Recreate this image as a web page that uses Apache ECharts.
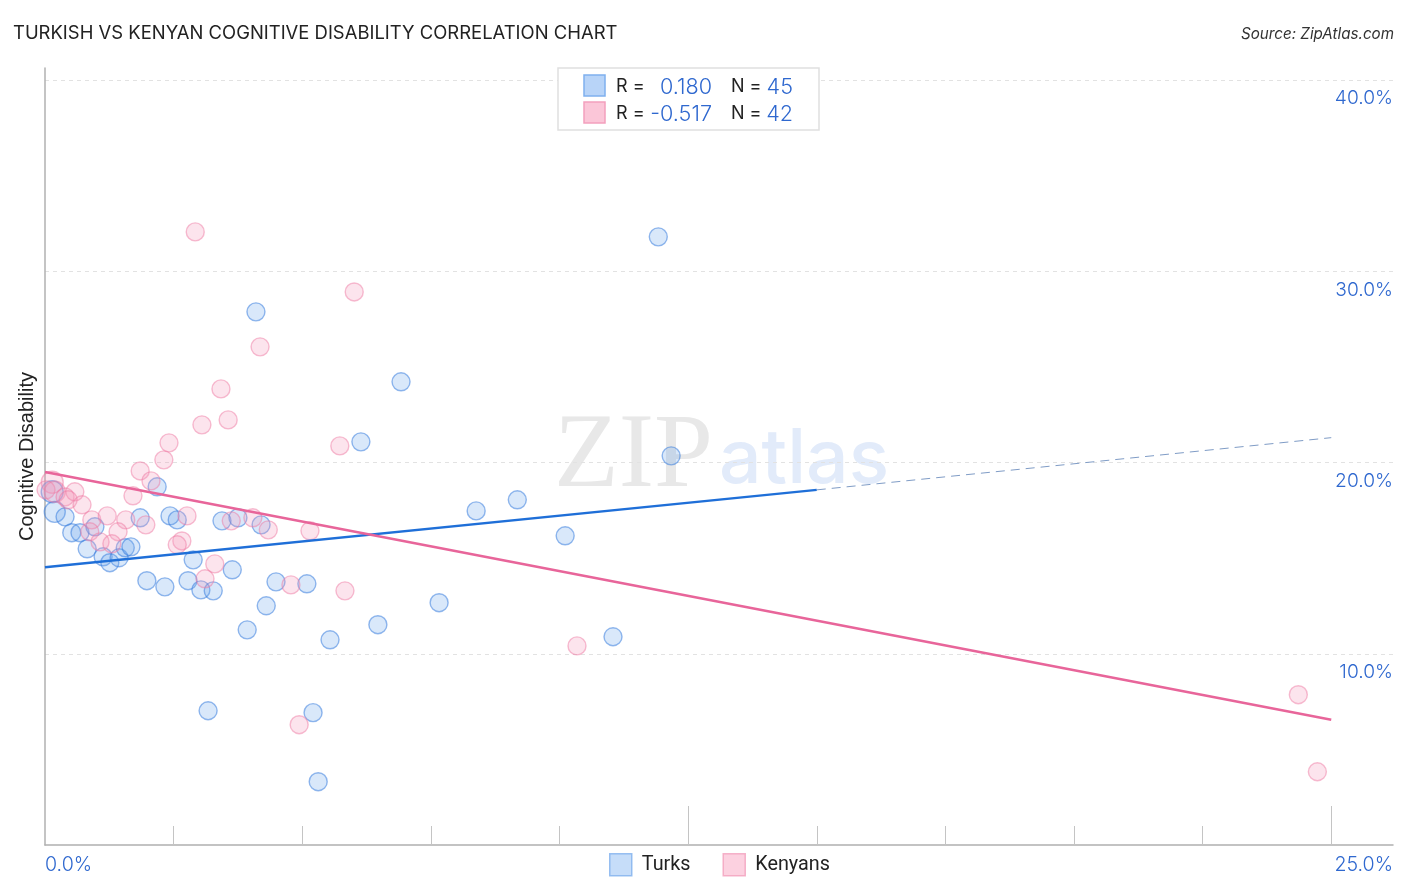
<!DOCTYPE html>
<html lang="en">
<head>
<meta charset="utf-8">
<title>Turkish vs Kenyan Cognitive Disability</title>
<script src="https://cdn.jsdelivr.net/npm/echarts@6/dist/echarts.min.js"></script>
<style>
  html, body { margin: 0; padding: 0; background: #fff; }
  #main { width: 1406px; height: 892px; }
</style>
</head>
<body>
<div id="main"></div>
<script>
// values, x and y both in percent
var turks = [
  [0.14,18.47],[0.19,17.42],[0.39,17.16],[0.52,16.33],[0.68,16.33],[0.97,16.64],[0.82,15.49],[1.13,15.07],[1.26,14.76],
  [1.44,15.02],[1.56,15.54],[1.67,15.59],[1.85,17.11],[2.18,18.73],[2.43,17.21],[2.57,17.0],[3.44,16.95],[3.75,17.11],
  [4.2,16.74],[2.88,14.91],[3.64,14.39],[1.98,13.82],[2.33,13.5],[2.78,13.82],[3.03,13.34],[3.27,13.29],[4.49,13.76],
  [5.09,13.66],[4.3,12.51],[3.93,11.25],[5.54,10.73],[3.17,7.02],[5.21,6.92],[5.31,3.31],[6.47,11.52],[7.66,12.67],
  [11.04,10.89],[10.11,16.17],[8.38,17.47],[9.18,18.05],[12.17,20.35],[6.14,21.08],[6.92,24.22],[4.1,27.88],[11.92,31.8]
];
var kenyans = [
  [0.14,18.97],[0.02,18.57],[0.19,18.47],[0.39,18.2],[0.58,18.47],[0.45,18.05],[0.72,17.79],[0.91,17.0],[1.21,17.21],
  [1.57,17.0],[0.87,16.38],[1.42,16.38],[1.96,16.74],[1.07,15.85],[1.3,15.75],[1.71,18.26],[1.85,19.56],[2.06,19.04],
  [2.31,20.14],[2.41,21.03],[2.76,17.21],[2.66,15.9],[2.57,15.7],[3.3,14.7],[3.11,13.92],[3.62,16.95],[4.04,17.11],
  [4.34,16.48],[5.15,16.43],[4.78,13.6],[5.83,13.29],[3.05,21.97],[3.56,22.23],[3.42,23.85],[4.18,26.05],[6.01,28.92],
  [2.92,32.06],[5.73,20.87],[4.94,6.29],[10.34,10.41],[24.36,7.86],[24.73,3.83]
];
// the points at the far left are drawn bigger in the source
var turksBig = [22,21];
var kenyansBig = [22,18,21];
var turksTrend = [[0,14.52],[15,18.57]];
var turksTrendExt = [[15,18.57],[25,21.3]];
var kenyansTrend = [[0,19.5],[25,6.55]];

var xTicks = [2.5,5,7.5,10,15,17.5,20,22.5];
var xLongTicks = [12.5,25];
var xMax = 26.2;
var yMax = 40.63;
var xLabelValues = [0,xMax];
var xLabelTexts = ['0.0%','25.0%'];
var yLabelValues = [10,20,30,40];
var statR = ['0.180','-0.517'];
var statN = ['45','42'];

var BLUE_TEXT = '#2f68cf';
var FONT = 'Inter';

function sizer(big) {
  return function (val, params) { return big[params.dataIndex] || 18; };
}

function statRow(i, top, fill, stroke) {
  var midY = top + 12;
  return [
    {type:'rect', shape:{x:584,y:top,width:21,height:21}, style:{fill:fill,stroke:stroke,lineWidth:1.5}, z:11},
    {type:'text', x:616, y:midY, style:{text:'R =',font:'400 18px '+FONT,fill:'#222',textVerticalAlign:'middle'}, z:11},
    {type:'text', x:712, y:midY, style:{text:statR[i],font:'300 21.6px '+FONT,fill:BLUE_TEXT,textAlign:'right',textVerticalAlign:'middle'}, z:11},
    {type:'text', x:731, y:midY, style:{text:'N =',font:'400 18px '+FONT,fill:'#222',textVerticalAlign:'middle'}, z:11},
    {type:'text', x:793, y:midY, style:{text:statN[i],font:'300 21.6px '+FONT,fill:BLUE_TEXT,textAlign:'right',textVerticalAlign:'middle'}, z:11}
  ];
}

var chart = echarts.init(document.getElementById('main'));
var option = {
  animation: false,
  backgroundColor: '#fff',
  title: [
    {text:'TURKISH VS KENYAN COGNITIVE DISABILITY CORRELATION CHART', left:13, top:24, padding:0,
     textStyle:{fontFamily:FONT,fontWeight:400,fontSize:18.45,color:'#222'}},
    {text:'Source: ZipAtlas.com', right:12, top:27, padding:0,
     textStyle:{fontFamily:FONT,fontStyle:'italic',fontWeight:400,fontSize:15.2,color:'#333'}}
  ],
  legend: {
    left: 609, top: 853, padding: 0, itemWidth: 22, itemHeight: 22, itemGap: 32,
    textStyle: {fontFamily:'Roboto',fontSize:19.8,color:'#222',padding:[0,0,0,5]},
    data: [
      {name:'Turks', icon:'rect', itemStyle:{color:'#b8d4f8',borderColor:'#7fb0ee',borderWidth:1.5}},
      {name:'Kenyans', icon:'rect', itemStyle:{color:'#fbc6d8',borderColor:'#f3a0bd',borderWidth:1.5}}
    ]
  },
  grid: {left:45, right:13, top:68, bottom:47},
  xAxis: [
    {type:'value', min:0, max:xMax, interval:2.5, splitLine:{show:false},
     axisLine:{onZero:false,lineStyle:{color:'#b0b0b0',width:1.5}},
     axisTick:{show:true,inside:true,length:19,customValues:xTicks,lineStyle:{color:'#c4c4c4',width:1}},
     axisLabel:{customValues:xLabelValues,alignMinLabel:'left',alignMaxLabel:'right',margin:10,
       fontFamily:FONT,fontWeight:300,fontSize:19.6,color:BLUE_TEXT,
       formatter:function(v){return xLabelTexts[xLabelValues.indexOf(v)];}}},
    {type:'value', min:0, max:xMax, interval:12.5, position:'bottom', splitLine:{show:false},
     axisLine:{show:false},
     axisTick:{show:true,inside:true,length:39,customValues:xLongTicks,lineStyle:{color:'#c4c4c4',width:1}},
     axisLabel:{show:false}}
  ],
  yAxis: [
    {type:'value', min:0, max:yMax, interval:10,
     name:'Cognitive Disability', nameLocation:'middle', nameGap:8, nameRotate:90,
     nameTextStyle:{fontFamily:'Liberation Sans',fontSize:20,color:'#222'},
     axisLine:{show:true,lineStyle:{color:'#b0b0b0',width:1.5}}, axisTick:{show:false}, axisLabel:{show:false},
     splitLine:{show:true,showMinLine:false,showMaxLine:false,lineStyle:{color:'#e2e2e2',type:[4,4],width:1}}},
    {type:'value', min:0, max:yMax, interval:10, position:'right',
     axisLine:{show:false}, axisTick:{show:false}, splitLine:{show:false},
     axisLabel:{inside:true,customValues:yLabelValues,margin:0,align:'right',verticalAlign:'top',padding:[9,0,0,0],
       fontFamily:FONT,fontWeight:300,fontSize:19.2,color:BLUE_TEXT,
       formatter:function(v){return v.toFixed(1)+'%';}}}
  ],
  graphic: {elements: [
    {type:'text', x:554, y:405, silent:true, z:0, style:{text:'ZIP',font:'400 106px "Liberation Serif"',fill:'#e8e8e8'}},
    {type:'text', x:719, y:423, silent:true, z:0, style:{text:'atlas',font:'500 75px Inter',fill:'#e2ebfa'}},
    {type:'rect', shape:{x:558,y:68,width:261,height:62}, style:{fill:'#fff',stroke:'#e0e0e0',lineWidth:1.5}, z:10}
  ].concat(statRow(0,75,'#b8d4f8','#7fb0ee'), statRow(1,102,'#fbc6d8','#f3a0bd'))},
  series: [
    {name:'Turks', type:'scatter', data:turks, symbolSize:sizer(turksBig), z:3,
     itemStyle:{color:'rgba(100,160,235,0.3)',borderColor:'rgba(50,120,220,0.65)',borderWidth:1.4}},
    {name:'Kenyans', type:'scatter', data:kenyans, symbolSize:sizer(kenyansBig), z:3,
     itemStyle:{color:'rgba(245,150,185,0.32)',borderColor:'rgba(238,120,160,0.6)',borderWidth:1.4}},
    {type:'line', data:turksTrend, showSymbol:false, silent:true, z:4, lineStyle:{color:'#1f6fd8',width:2.5}},
    {type:'line', data:turksTrendExt, showSymbol:false, silent:true, z:4, lineStyle:{color:'#7f9cc6',width:1,type:[9,6]}},
    {type:'line', data:kenyansTrend, showSymbol:false, silent:true, z:4, lineStyle:{color:'#e8659a',width:2.5}}
  ]
};
chart.setOption(option);
</script>
</body>
</html>
